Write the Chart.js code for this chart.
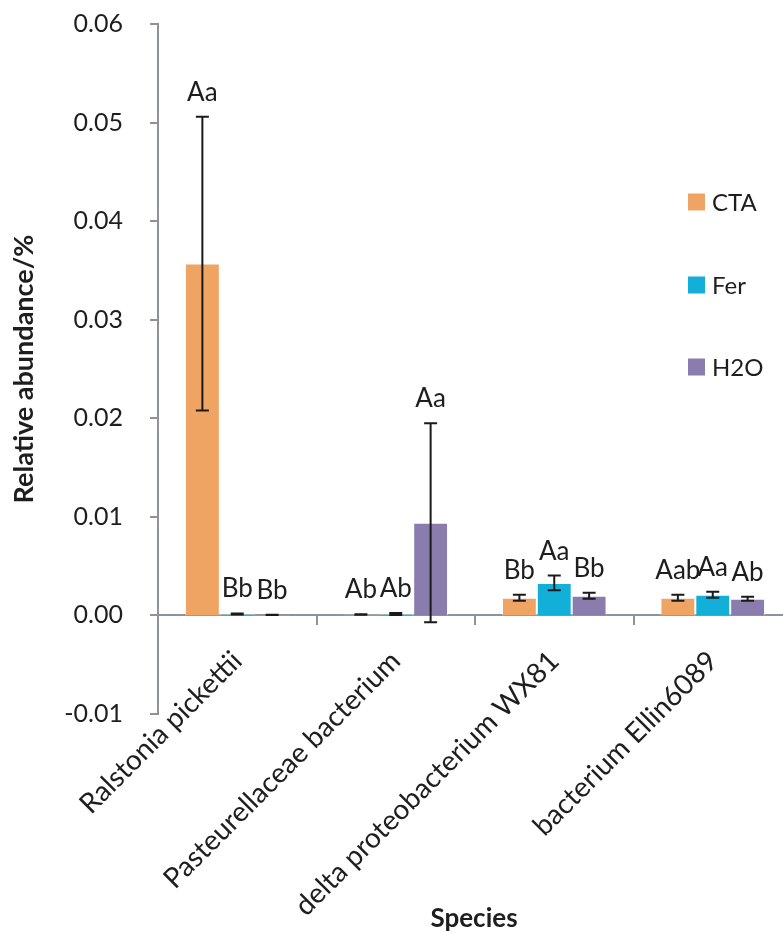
<!DOCTYPE html>
<html>
<head>
<meta charset="utf-8">
<script src="https://cdn.jsdelivr.net/npm/chart.js@4.4.0/dist/chart.umd.min.js"></script>
<style>
  html, body { margin: 0; padding: 0; overflow: hidden; background: #ffffff; }
  canvas { display: block; }
</style>
</head>
<body>
<canvas id="chart" width="800" height="932"></canvas>
<script>
// Species on the category axis
const species = [
  'Ralstonia pickettii',
  'Pasteurellaceae bacterium',
  'delta proteobacterium WX81',
  'bacterium Ellin6089'
];

// Treatments
const seriesNames = ['CTA', 'Fer', 'H2O'];
const seriesColors = ['#F0A464', '#12B0D8', '#8A7DAE'];

// Mean relative abundance (%) per treatment
const ctaMean = [0.0357, 0.0001, 0.0018, 0.0018];
const ferMean = [0.00015, 0.00015, 0.0033, 0.0021];
const h2oMean = [0.00005, 0.0094, 0.0020, 0.0017];

// Standard error per treatment
const ctaErr = [0.0149, 0.00003, 0.0003, 0.0003];
const ferErr = [0.00005, 0.0001, 0.00075, 0.0003];
const h2oErr = [0.00001, 0.0101, 0.0003, 0.0002];

// Significance letters
const ctaLetters = ['Aa', 'Ab', 'Bb', 'Aab'];
const ferLetters = ['Bb', 'Ab', 'Aa', 'Aa'];
const h2oLetters = ['Bb', 'Aa', 'Bb', 'Ab'];

// Value axis labels, bottom to top
const yTickLabels = ['-0.01', '0.00', '0.01', '0.02', '0.03', '0.04', '0.05', '0.06'];

const FONT = 'Lato';
const TEXT = '#1e1e1e';
const AXIS = '#8d9399';

const means = [ctaMean, ferMean, h2oMean];
const errs = [ctaErr, ferErr, h2oErr];
const letters = [ctaLetters, ferLetters, h2oLetters];

// Error bars with caps, then the letters above them
const errorBarPlugin = {
  id: 'errorBars',
  afterDatasetsDraw(chart) {
    const ctx = chart.ctx;
    const y = chart.scales.y;
    ctx.save();
    ctx.strokeStyle = '#1a1a1a';
    ctx.lineWidth = 2;
    chart.data.datasets.forEach((ds, i) => {
      const meta = chart.getDatasetMeta(i);
      meta.data.forEach((bar, j) => {
        const m = means[i][j], e = errs[i][j];
        const top = y.getPixelForValue(m + e);
        const bot = y.getPixelForValue(m - e);
        const x = bar.x;
        ctx.beginPath();
        ctx.moveTo(x, top); ctx.lineTo(x, bot);
        ctx.moveTo(x - 6.5, top); ctx.lineTo(x + 6.5, top);
        ctx.moveTo(x - 6.5, bot); ctx.lineTo(x + 6.5, bot);
        ctx.stroke();
        ctx.fillStyle = TEXT;
        ctx.font = '26px ' + FONT;
        ctx.textAlign = 'center';
        ctx.textBaseline = 'alphabetic';
        ctx.fillText(letters[i][j], x, top - 16);
      });
    });
    ctx.restore();
  }
};

// Legend and the category axis title
const decorPlugin = {
  id: 'decor',
  afterDraw(chart) {
    const ctx = chart.ctx;
    ctx.save();
    const rows = [202, 285, 367];
    chart.data.datasets.forEach((ds, i) => {
      ctx.fillStyle = ds.backgroundColor;
      ctx.fillRect(688, rows[i] - 8.5, 17, 17);
      ctx.fillStyle = TEXT;
      ctx.font = '24px ' + FONT;
      ctx.textAlign = 'left';
      ctx.textBaseline = 'middle';
      ctx.fillText(ds.label, 712, rows[i] + 1);
    });
    ctx.font = 'bold 26px ' + FONT;
    ctx.textAlign = 'center';
    ctx.textBaseline = 'alphabetic';
    ctx.fillText('Species', 474, 927);
    ctx.restore();
  }
};

new Chart(document.getElementById('chart'), {
  type: 'bar',
  data: {
    labels: species,
    datasets: seriesNames.map((name, i) => ({
      label: name,
      data: means[i],
      backgroundColor: seriesColors[i],
      borderColor: 'rgba(255,255,255,0.55)',
      borderWidth: 1,
      categoryPercentage: 0.66,
      barPercentage: 1.0
    }))
  },
  options: {
    responsive: false,
    animation: false,
    layout: { padding: { left: 0, right: 8, top: 24, bottom: 218 } },
    plugins: {
      legend: { display: false },
      tooltip: { enabled: false }
    },
    scales: {
      x: {
        position: { y: 0 },
        grid: {
          display: true,
          drawOnChartArea: false,
          drawTicks: true,
          tickLength: 26,
          tickBorderDash: [9, 60],
          color: AXIS,
          lineWidth: 2
        },
        border: { display: true, color: AXIS, width: 2 },
        ticks: {
          color: TEXT,
          font: { family: FONT, size: 28 },
          minRotation: 45,
          maxRotation: 45,
          autoSkip: false
        }
      },
      y: {
        min: -0.01,
        max: 0.06,
        afterFit(scale) {
          scale.width = 158;
          scale.paddingTop = 0;
          scale.paddingBottom = 0;
        },
        grid: {
          display: true,
          drawOnChartArea: false,
          drawTicks: true,
          tickLength: 8,
          color: AXIS,
          lineWidth: 2
        },
        border: { display: true, color: AXIS, width: 2 },
        ticks: {
          stepSize: 0.01,
          color: TEXT,
          font: { family: FONT, size: 25 },
          padding: 27,
          callback: (v, i) => yTickLabels[i]
        },
        title: {
          display: true,
          text: 'Relative abundance/%',
          color: TEXT,
          font: { family: FONT, size: 27, weight: 'bold' },
          padding: { top: 8, bottom: 0 }
        }
      }
    }
  },
  plugins: [errorBarPlugin, decorPlugin]
});
</script>
</body>
</html>
